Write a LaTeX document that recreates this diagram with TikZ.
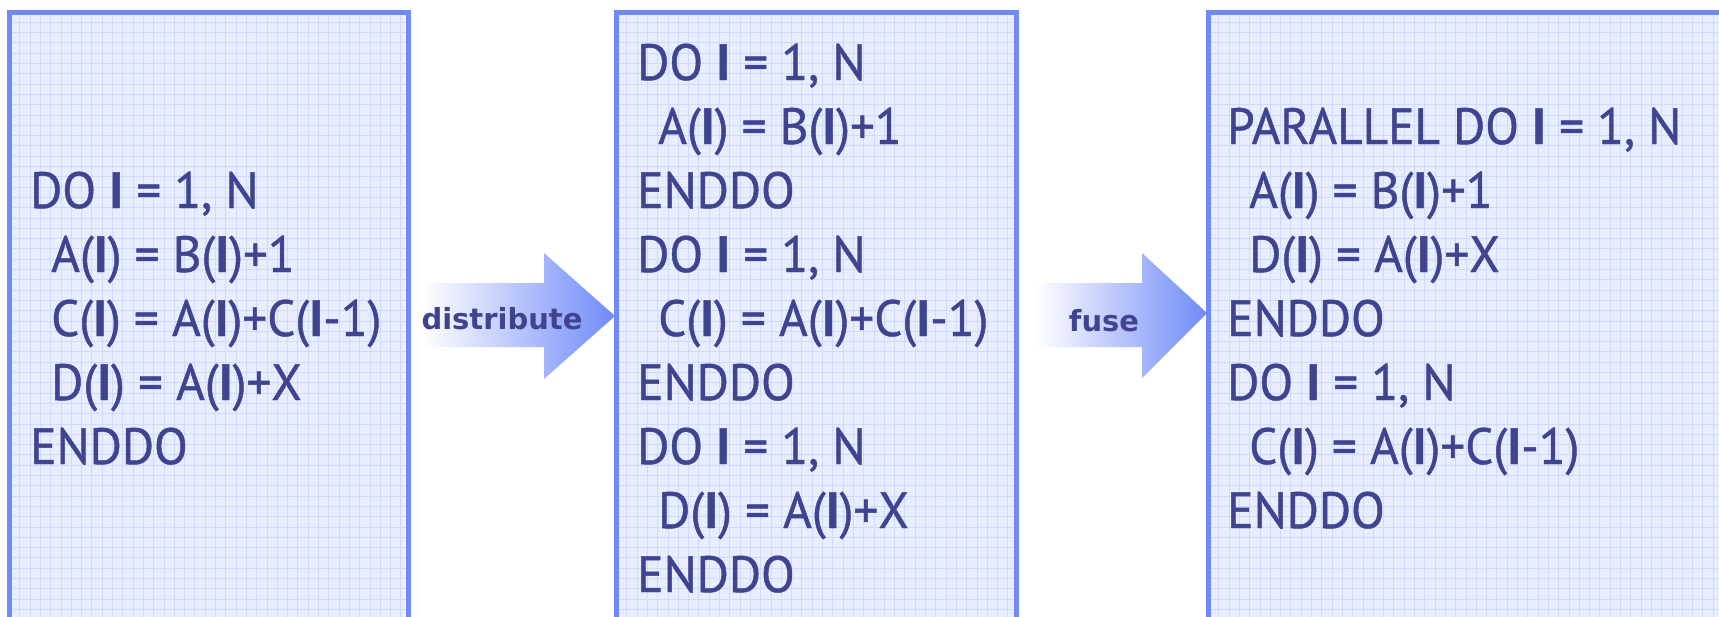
\documentclass[tikz,border=0pt]{standalone}
\usepackage{fontspec}
\setmainfont{PT Sans}[FakeBold=0.9, FakeStretch=0.965]
\newfontfamily\labelfont{DejaVu Sans}
\definecolor{boxborder}{RGB}{112,138,248}
\definecolor{boxfill}{RGB}{232,238,255}
\definecolor{gridcol}{RGB}{208,218,255}
\definecolor{codecol}{RGB}{64,68,144}
\definecolor{arrowblue}{RGB}{112,138,248}
\newcommand\boldI{\textbf{I}}
\tikzset{
  codebox/.style={draw=boxborder, line width=5pt},
  gridlines/.style={draw=gridcol, line width=0.9pt},
  codeline/.style={anchor=base west, inner sep=0pt, text=codecol, font=\fontsize{51}{51}\selectfont},
  arrowlabel/.style={anchor=base, inner sep=0pt, text=codecol, font=\labelfont\bfseries\fontsize{29}{29}\selectfont},
  fatarrow/.style={left color=white, right color=arrowblue, shading angle=90}
}
\begin{document}
\begin{tikzpicture}[x=1pt,y=-1pt]
\useasboundingbox (0,0) rectangle (1719,616);
\fill[white] (0,0) rectangle (1719,616);
% boxes
\foreach \xa/\xb in {9.5/408.5, 616.5/1016.5, 1208.5/1724} {
  \fill[boxfill] (\xa,12) rectangle (\xb,640);
  \begin{scope}
    \clip (\xa,12) rectangle (\xb,640);
    \foreach \k in {0,...,52} {
      \draw[gridlines] ({\xa+10.3*\k},12) -- ({\xa+10.3*\k},640);
    }
    \foreach \k in {0,...,62} {
      \draw[gridlines] (\xa,{12+10.3*\k}) -- (\xb,{12+10.3*\k});
    }
  \end{scope}
  \draw[codebox] (\xa,12) rectangle (\xb,640);
}
% arrows
\shade[fatarrow] (423,283) -- (544,283) -- (544,253) -- (615,316) -- (544,379) -- (544,347) -- (423,347) -- cycle;
\shade[fatarrow] (1035,283) -- (1142,283) -- (1142,253) -- (1207,313) -- (1142,378) -- (1142,347) -- (1035,347) -- cycle;
\node[arrowlabel] (ldist) at (502,329) {distribute};
\node[arrowlabel] (lfuse) at (1104,331) {fuse};
% box 1
\node[codeline] (a1) at (30,208) {DO \boldI{} = 1, N};
\node[codeline] (a2) at (51,272) {A(\boldI) = B(\boldI)+1};
\node[codeline] (a3) at (51,336) {C(\boldI) = A(\boldI)+C(\boldI-1)};
\node[codeline] (a4) at (51,400) {D(\boldI) = A(\boldI)+X};
\node[codeline] (a5) at (30,464) {ENDDO};
% box 2
\node[codeline] (b1) at (637,80) {DO \boldI{} = 1, N};
\node[codeline] (b2) at (658,144) {A(\boldI) = B(\boldI)+1};
\node[codeline] (b3) at (637,208) {ENDDO};
\node[codeline] (b4) at (637,272) {DO \boldI{} = 1, N};
\node[codeline] (b5) at (658,336) {C(\boldI) = A(\boldI)+C(\boldI-1)};
\node[codeline] (b6) at (637,400) {ENDDO};
\node[codeline] (b7) at (637,464) {DO \boldI{} = 1, N};
\node[codeline] (b8) at (658,528) {D(\boldI) = A(\boldI)+X};
\node[codeline] (b9) at (637,592) {ENDDO};
% box 3
\node[codeline] (c1) at (1227,144) {PARALLEL DO \boldI{} = 1, N};
\node[codeline] (c2) at (1249,208) {A(\boldI) = B(\boldI)+1};
\node[codeline] (c3) at (1249,272) {D(\boldI) = A(\boldI)+X};
\node[codeline] (c4) at (1227,336) {ENDDO};
\node[codeline] (c5) at (1227,400) {DO \boldI{} = 1, N};
\node[codeline] (c6) at (1249,464) {C(\boldI) = A(\boldI)+C(\boldI-1)};
\node[codeline] (c7) at (1227,528) {ENDDO};
\end{tikzpicture}
\end{document}
